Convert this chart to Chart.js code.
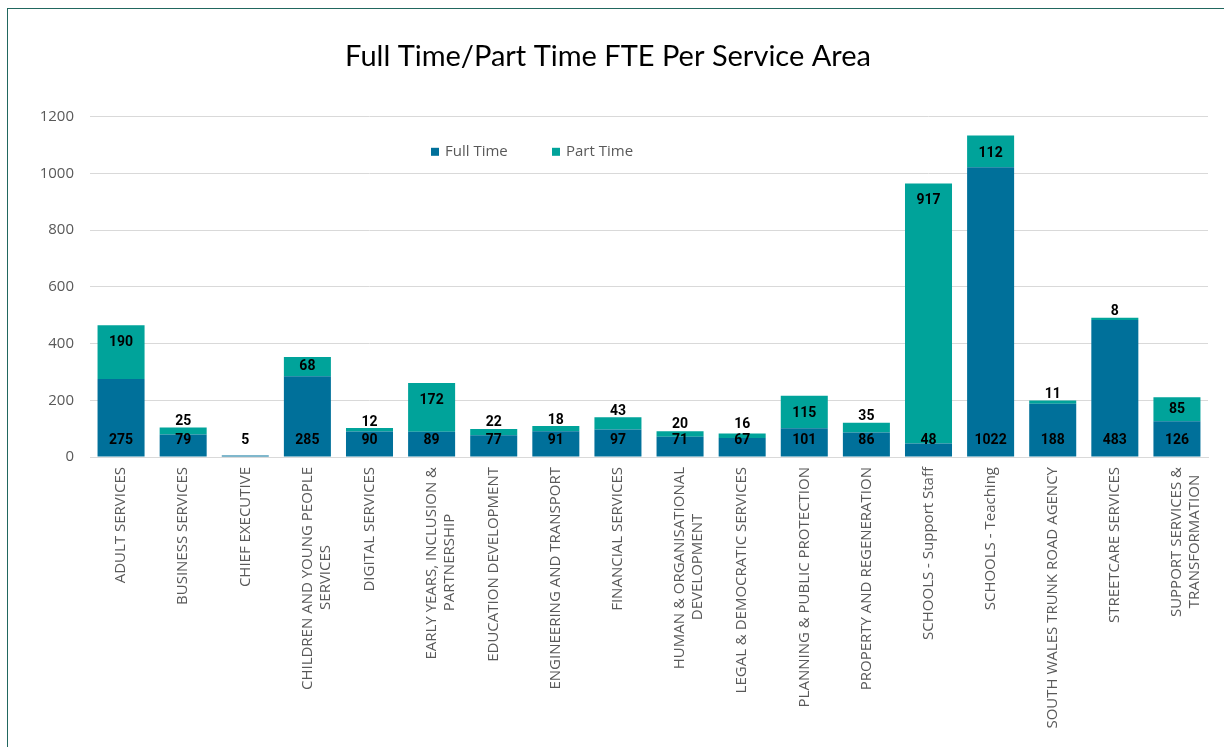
<!DOCTYPE html>
<html>
<head>
<meta charset="utf-8">
<script src="https://cdn.jsdelivr.net/npm/chart.js@4/dist/chart.umd.min.js"></script>
<style>
  html, body { margin: 0; padding: 0; background: #fff; }
  #frame {
    position: absolute; left: 7px; top: 8px; width: 1230px; height: 760px;
    border-left: 1px solid #21675f; border-top: 1px solid #21675f;
  }
  #fte { position: absolute; left: 8px; top: 9px; }
</style>
</head>
<body>
<div id="frame"></div>
<canvas id="fte" width="1216" height="738"></canvas>
<script>
    // data
    const categories = [
      ['ADULT SERVICES'],
      ['BUSINESS SERVICES'],
      ['CHIEF EXECUTIVE'],
      ['CHILDREN AND YOUNG PEOPLE', 'SERVICES'],
      ['DIGITAL SERVICES'],
      ['EARLY YEARS, INCLUSION &', 'PARTNERSHIP'],
      ['EDUCATION DEVELOPMENT'],
      ['ENGINEERING AND TRANSPORT'],
      ['FINANCIAL SERVICES'],
      ['HUMAN & ORGANISATIONAL', 'DEVELOPMENT'],
      ['LEGAL & DEMOCRATIC SERVICES'],
      ['PLANNING & PUBLIC PROTECTION'],
      ['PROPERTY AND REGENERATION'],
      ['SCHOOLS - Support Staff'],
      ['SCHOOLS - Teaching'],
      ['SOUTH WALES TRUNK ROAD AGENCY'],
      ['STREETCARE SERVICES'],
      ['SUPPORT SERVICES &', 'TRANSFORMATION']
    ];
    const fullTime = [275, 79, 5, 285, 90, 89, 77, 91, 97, 71, 67, 101, 86, 48, 1022, 188, 483, 126];
    const partTime = [190, 25, 0, 68, 12, 172, 22, 18, 43, 20, 16, 115, 35, 917, 112, 11, 8, 85];
    const seriesNames = ['Full Time', 'Part Time'];
    const seriesColors = ['#00709a', '#00a39a'];
    const titleText = 'Full Time/Part Time FTE Per Service Area';

    const tickFont = '15px "Open Sans"';

    // pad the shorter line of a two-line label (non-breaking spaces) so both lines look centred
    function centerLines(lines) {
      if (lines.length < 2) return lines[0];
      const ctx = document.createElement('canvas').getContext('2d');
      ctx.font = tickFont;
      const widths = lines.map(l => ctx.measureText(l).width);
      const max = Math.max(...widths);
      const sp = ctx.measureText('\u00A0').width;
      return lines.map((l, i) => l + '\u00A0'.repeat(Math.round((max - widths[i]) / 2 / sp)));
    }

    // labels on the bars
    const barLabels = {
      id: 'barLabels',
      afterDatasetsDraw(chart) {
        const ctx = chart.ctx;
        ctx.save();
        ctx.font = 'bold 14px Roboto';
        ctx.fillStyle = '#000';
        ctx.textAlign = 'center';
        ctx.textBaseline = 'middle';
        const full = chart.getDatasetMeta(0).data;
        const part = chart.getDatasetMeta(1).data;
        full.forEach((bar, i) => {
          const fy = bar.base - 16;
          if (fullTime[i]) ctx.fillText(fullTime[i], bar.x, fy);
          if (!partTime[i]) return;
          const p = part[i];
          const seg = p.base - p.y;
          let y;
          if (seg >= 30) y = p.y + 17.5;
          else if (seg >= 16) y = p.y + seg / 2;
          else y = p.y - 6;
          y = Math.min(y, fy - 16);
          ctx.fillText(partTime[i], p.x, y);
        });
        ctx.restore();
      }
    };

    // legend sits inside the plot, like the original
    const innerLegend = {
      id: 'innerLegend',
      afterDraw(chart) {
        const ctx = chart.ctx;
        const area = chart.chartArea;
        const y = area.top + 35;
        let x = area.left + 341;
        ctx.save();
        ctx.font = '15px "Open Sans"';
        ctx.textBaseline = 'middle';
        chart.data.datasets.forEach(ds => {
          ctx.fillStyle = ds.backgroundColor;
          ctx.fillRect(x, y - 4, 8, 8);
          ctx.fillStyle = '#595959';
          ctx.fillText(ds.label, x + 14, y);
          x += 121;
        });
        ctx.restore();
      }
    };

    new Chart(document.getElementById('fte'), {
      type: 'bar',
      data: {
        labels: categories.map(c => centerLines(c)),
        datasets: [
          { label: seriesNames[0], data: fullTime, backgroundColor: seriesColors[0] },
          { label: seriesNames[1], data: partTime, backgroundColor: seriesColors[1] }
        ]
      },
      options: {
        responsive: false,
        animation: false,
        categoryPercentage: 1,
        barPercentage: 0.757,
        layout: { padding: { left: 0, right: 16, top: 0, bottom: 0 } },
        plugins: {
          legend: { display: false },
          tooltip: { enabled: false },
          title: {
            display: true,
            text: titleText,
            color: '#000',
            font: { family: 'Lato', size: 29, weight: 'normal' },
            padding: { top: 30, bottom: 43 }
          }
        },
        scales: {
          x: {
            stacked: true,
            grid: { display: false, drawTicks: false },
            border: { color: '#d9d9d9' },
            ticks: {
              autoSkip: false,
              minRotation: 90,
              maxRotation: 90,
              padding: 10,
              color: '#595959',
              font: { family: 'Open Sans', size: 15 }
            },
            afterFit(scale) { scale.height = 290; }
          },
          y: {
            stacked: true,
            min: 0,
            max: 1200,
            grid: { color: '#d9d9d9', drawTicks: false },
            border: { display: false },
            ticks: {
              stepSize: 200,
              padding: 16,
              color: '#595959',
              font: { family: 'Open Sans', size: 15 },
              callback: v => String(v)
            },
            afterFit(scale) { scale.width = 82; }
          }
        }
      },
      plugins: [barLabels, innerLegend]
    });
</script>
</body>
</html>
